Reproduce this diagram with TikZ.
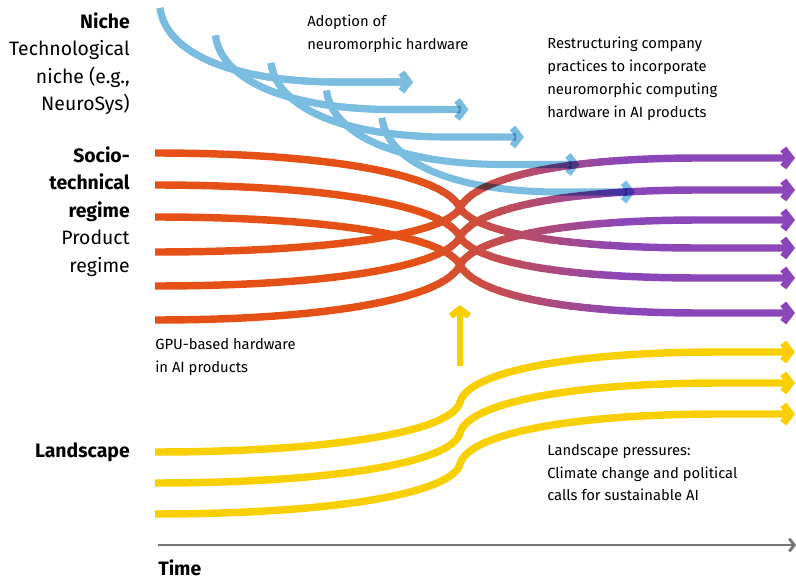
\documentclass[tikz,border=0pt]{standalone}
\usepackage{fontspec}
\setmainfont{Fira Sans}
\usetikzlibrary{arrows.meta}

\definecolor{nicheblue}{RGB}{123,188,225}
\definecolor{regimeorange}{RGB}{229,80,22}
\definecolor{regimepurple}{RGB}{139,70,186}
\definecolor{landyellow}{RGB}{248,207,0}
\definecolor{timegray}{RGB}{118,118,118}

\tikzset{
  strand/.style={line width=5.3pt, -{Straight Barb[length=5pt,width=13pt]}},
  level/.style={font=\fontsize{13.8}{19.6}\selectfont, align=right, anchor=north east, inner sep=0pt},
  note/.style={font=\fontsize{10.5}{16.2}\selectfont, align=left, anchor=north west, inner sep=0pt},
}

% the six regime strands, left end / crossing / right end
\newcommand{\regimepaths}[1]{%
  \foreach \yl/\ym/\yr in {153/208/248, 252/208/158, 185/237/278, 286/237/190, 217/265/313, 320/265/220}
    \draw[strand, draw=#1] (155,\yl) .. controls (330,\yl) and (445,{\ym-0.6*(\ym-\yl)}) .. (460,\ym)
      .. controls (475,{\ym+0.6*(\yr-\ym)}) and (560,\yr) .. (700,\yr) -- (795,\yr);
}

% the five niche arrows
\newcommand{\nichepaths}{%
  \foreach \i in {0,...,4}
    \draw[strand, line width=5pt, draw=nicheblue] (160+55.5*\i,8+27.5*\i)
      .. controls +(5,40) and +(-110,-2) .. ++(170,74) -- ++(83,0);
}

\begin{document}
\begin{tikzpicture}[x=0.025cm, y=-0.025cm]
  \useasboundingbox (0,0) rectangle (796,578);

  % landscape
  \foreach \y in {452,483,514}
    \draw[strand, draw=landyellow] (155,\y) .. controls (330,\y) and (452,\y-20) .. (460,\y-50)
      .. controls (468,\y-80) and (570,\y-100) .. (720,\y-100) -- (795,\y-100);
  \coordinate (push) at (460,366);
  \coordinate (hit) at (460,305);
  \draw[strand, line width=4.6pt, draw=landyellow] (push) -- (hit);

  % regime, orange fading into purple
  \foreach \k in {0,...,20}{
    \pgfmathsetmacro{\xa}{ifthenelse(\k==0,100,419+10*\k)}
    \pgfmathsetmacro{\xb}{ifthenelse(\k==20,800,431+10*\k)}
    \pgfmathtruncatemacro{\mix}{5*\k}
    \begin{scope}
      \clip (\xa,130) rectangle (\xb,340);
      \regimepaths{regimepurple!\mix!regimeorange}
    \end{scope}
  }

  % niche, multiplied over the regime
  \begin{scope}[blend mode=multiply]
    \nichepaths
  \end{scope}
  % plain again where the blue only meets itself
  \begin{scope}
    \clip (0,0) rectangle (432,166);
    \nichepaths
  \end{scope}

  % time axis
  \coordinate (start) at (158,545);
  \coordinate (now) at (796,545);
  \draw[line width=2pt, draw=timegray, -{Straight Barb[length=3.5pt,width=9pt]}] (start) -- (now);

  % labels
  \node[level] (niche) at (130,12) {\textbf{Niche}\\Technological\\niche (e.g.,\\NeuroSys)};
  \node[level] (regime) at (130,146) {\textbf{Socio-}\\\textbf{technical}\\\textbf{regime}\\Product\\regime};
  \node[level, anchor=base east] (landscape) at (130,457) {\textbf{Landscape}};
  \node[level, anchor=base west] (time) at (158,575) {\textbf{Time}};

  \node[note] (adoption) at (307,15) {Adoption of\\neuromorphic hardware};
  \node[note] (restructuring) at (547,37) {Restructuring company\\practices to incorporate\\neuromorphic computing\\hardware in AI products};
  \node[note] (gpu) at (155,338) {GPU-based hardware\\in AI products};
  \node[note] (pressures) at (547,444) {Landscape pressures:\\Climate change and political\\calls for sustainable AI};
\end{tikzpicture}
\end{document}
